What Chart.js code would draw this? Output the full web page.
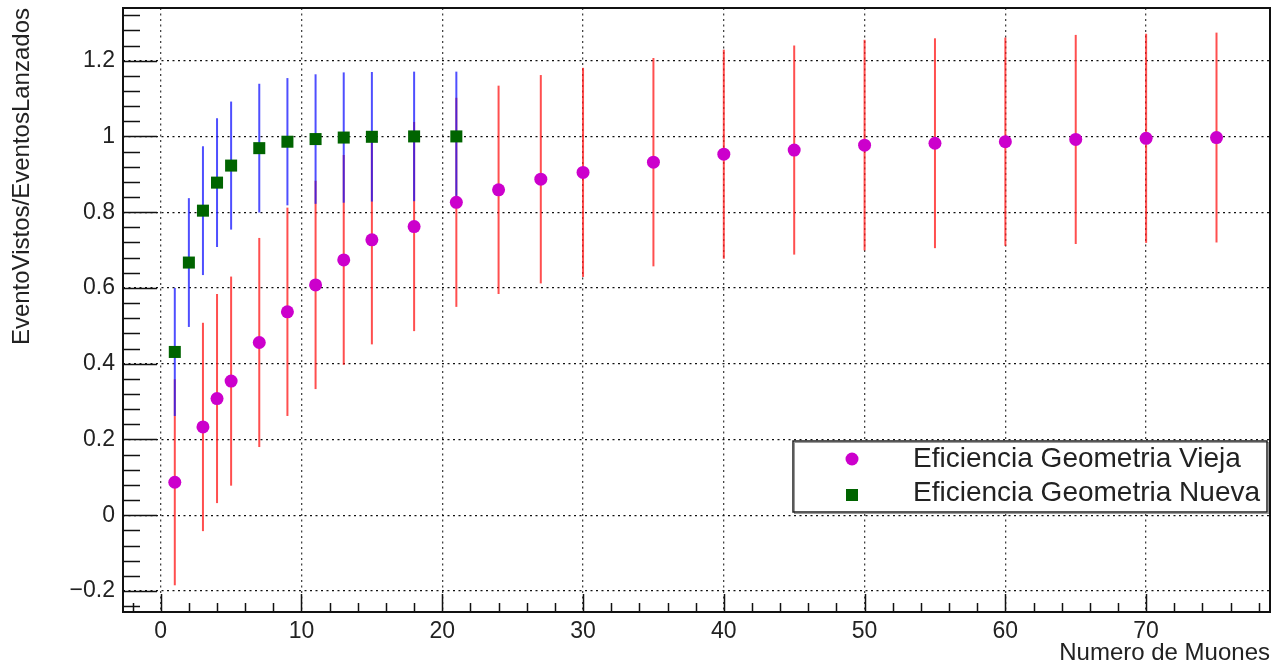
<!DOCTYPE html>
<html>
<head>
<meta charset="utf-8">
<script src="https://cdn.jsdelivr.net/npm/chart.js@4.4.1/dist/chart.umd.min.js"></script>
<style>
  html, body { margin: 0; padding: 0; background: #fff; }
  #wrap { width: 1273px; height: 670px; }
</style>
</head>
<body>
<div id="wrap"><canvas id="effChart"></canvas></div>
<script>
// geometria vieja (circulos)
var xVieja = [1, 3, 4, 5, 7, 9, 11, 13, 15, 18, 21, 24, 27, 30, 35, 40, 45, 50, 55, 60, 65, 70, 75];
var yVieja = [0.087, 0.233, 0.308, 0.354, 0.456, 0.537, 0.608, 0.674, 0.727, 0.762, 0.826, 0.859, 0.887, 0.905, 0.932, 0.953, 0.964, 0.977, 0.982, 0.986, 0.992, 0.995, 0.997];
var errVieja = [0.272, 0.275, 0.276, 0.276, 0.276, 0.275, 0.275, 0.277, 0.276, 0.276, 0.276, 0.275, 0.275, 0.276, 0.275, 0.276, 0.276, 0.278, 0.277, 0.275, 0.276, 0.276, 0.277];

// geometria nueva (cuadrados)
var xNueva = [1, 2, 3, 4, 5, 7, 9, 11, 13, 15, 18, 21];
var yNueva = [0.431, 0.667, 0.804, 0.878, 0.923, 0.969, 0.986, 0.993, 0.997, 0.999, 1.0, 1.0];
var errNueva = [0.169, 0.17, 0.17, 0.17, 0.169, 0.17, 0.168, 0.171, 0.172, 0.171, 0.171, 0.171];

var xTicks = [0, 10, 20, 30, 40, 50, 60, 70];
var yTicks = [-0.2, 0, 0.2, 0.4, 0.6, 0.8, 1, 1.2];

var labelVieja = 'Eficiencia Geometria Vieja';
var labelNueva = 'Eficiencia Geometria Nueva';

var FONT = '"Liberation Sans", Arial, sans-serif';

function toPoints(xs, ys, es) {
  return xs.map(function(x, i) { return { x: x, y: ys[i], err: es[i] }; });
}

var errorBars = {
  id: 'errorBars',
  beforeDatasetsDraw: function(chart) {
    var ctx = chart.ctx, sx = chart.scales.x, sy = chart.scales.y;
    chart.data.datasets.forEach(function(ds) {
      ctx.save();
      ctx.strokeStyle = ds.errorColor;
      ctx.lineWidth = 2;
      ds.data.forEach(function(p) {
        var px = sx.getPixelForValue(p.x);
        ctx.beginPath();
        ctx.moveTo(px, sy.getPixelForValue(p.y - p.err));
        ctx.lineTo(px, sy.getPixelForValue(p.y + p.err));
        ctx.stroke();
      });
      ctx.restore();
    });
  }
};

// marco y ticks hacia dentro, estilo ROOT
var frame = {
  id: 'frame',
  afterDraw: function(chart) {
    var ctx = chart.ctx, a = chart.chartArea, sx = chart.scales.x, sy = chart.scales.y;
    ctx.save();
    ctx.strokeStyle = '#111';
    ctx.lineWidth = 1.5;
    ctx.beginPath();
    for (var v = -8; v <= 78; v += 2) {
      var px = Math.round(sx.getPixelForValue(v)) + 0.5;
      if (px < a.left || px > a.right) continue;
      var len = (v % 10 === 0) ? 18 : 9;
      ctx.moveTo(px, a.bottom);
      ctx.lineTo(px, a.bottom - len);
    }
    for (var k = -6; k <= 33; k++) {
      var val = k * 0.04;
      var py = Math.round(sy.getPixelForValue(val)) + 0.5;
      if (py < a.top || py > a.bottom) continue;
      var l = (k % 5 === 0) ? 34 : 17;
      ctx.moveTo(a.left, py);
      ctx.lineTo(a.left + l, py);
    }
    ctx.stroke();
    ctx.lineWidth = 2;
    ctx.strokeRect(a.left, a.top, a.right - a.left, a.bottom - a.top);
    ctx.restore();
  }
};

var legendBox = {
  id: 'legendBox',
  afterDatasetsDraw: function(chart) {
    var ctx = chart.ctx, a = chart.chartArea;
    var x0 = a.right - 477, y0 = a.bottom - 171, w = 474, h = 71;
    ctx.save();
    ctx.fillStyle = '#fff';
    ctx.fillRect(x0, y0, w, h);
    ctx.strokeStyle = '#999';
    ctx.lineWidth = 1;
    ctx.strokeRect(x0 + 1.5, y0 + 1.5, w, h);
    ctx.strokeStyle = '#222';
    ctx.lineWidth = 1.5;
    ctx.strokeRect(x0, y0, w, h);
    var symRows = [y0 + 18, y0 + 54];
    var textRows = [y0 + 18, y0 + 52];
    chart.data.datasets.forEach(function(ds, i) {
      var cx = x0 + 59, cy = symRows[i];
      ctx.fillStyle = ds.backgroundColor;
      if (ds.pointStyle === 'rect') {
        ctx.fillRect(cx - 6, cy - 6, 12, 12);
      } else {
        ctx.beginPath();
        ctx.arc(cx, cy, 6.5, 0, Math.PI * 2);
        ctx.fill();
      }
      ctx.fillStyle = '#222';
      ctx.font = '28px ' + FONT;
      ctx.textBaseline = 'middle';
      ctx.textAlign = 'left';
      ctx.fillText(ds.label, x0 + 120, textRows[i]);
    });
    ctx.restore();
  }
};

new Chart(document.getElementById('effChart'), {
  type: 'scatter',
  data: {
    datasets: [{
      label: labelVieja,
      data: toPoints(xVieja, yVieja, errVieja),
      pointStyle: 'circle',
      pointRadius: 6.5,
      pointHoverRadius: 6.5,
      backgroundColor: '#cc00cc',
      borderColor: '#cc00cc',
      borderWidth: 0,
      errorColor: 'rgba(255, 20, 20, 0.75)'
    }, {
      label: labelNueva,
      data: toPoints(xNueva, yNueva, errNueva),
      pointStyle: 'rect',
      pointRadius: 8.5,
      pointHoverRadius: 8.5,
      backgroundColor: '#006400',
      borderColor: '#006400',
      borderWidth: 0,
      errorColor: 'rgba(20, 20, 255, 0.75)'
    }]
  },
  options: {
    responsive: true,
    maintainAspectRatio: false,
    animation: false,
    layout: { autoPadding: false, padding: { top: 8, right: 3, left: 0, bottom: 0 } },
    plugins: {
      legend: { display: false },
      tooltip: { enabled: false }
    },
    scales: {
      x: {
        type: 'linear',
        min: -2.68,
        max: 78.8,
        afterBuildTicks: function(s) { s.ticks = xTicks.map(function(v) { return { value: v }; }); },
        afterFit: function(s) { s.height = 58; s.paddingLeft = 0; s.paddingRight = 0; },
        grid: { color: '#444', lineWidth: 1.3, drawTicks: false },
        border: { display: false, dash: [2, 3.5] },
        ticks: {
          padding: 6,
          color: '#222',
          font: { family: FONT, size: 23 },
          maxRotation: 0,
          callback: function(v) { return String(v); }
        },
        title: {
          display: true,
          text: 'Numero de Muones',
          align: 'end',
          color: '#222',
          font: { family: FONT, size: 24 },
          padding: { top: 0, bottom: 2 }
        }
      },
      y: {
        type: 'linear',
        min: -0.2555,
        max: 1.339,
        afterBuildTicks: function(s) { s.ticks = yTicks.map(function(v) { return { value: v }; }); },
        afterFit: function(s) { s.width = 123; s.paddingTop = 0; s.paddingBottom = 0; },
        grid: { color: '#111', lineWidth: 1.3, drawTicks: false },
        border: { display: false, dash: [2, 3.5] },
        ticks: {
          padding: 8,
          color: '#222',
          font: { family: FONT, size: 23 },
          callback: function(v) {
            var r = Math.round(v * 10) / 10;
            return r < 0 ? '\u2212' + Math.abs(r) : String(r);
          }
        },
        title: {
          display: true,
          text: 'EventoVistos/EventosLanzados',
          align: 'end',
          color: '#222',
          font: { family: FONT, size: 24 },
          padding: { top: 8, bottom: 0 }
        }
      }
    }
  },
  plugins: [errorBars, legendBox, frame]
});
</script>
</body>
</html>
